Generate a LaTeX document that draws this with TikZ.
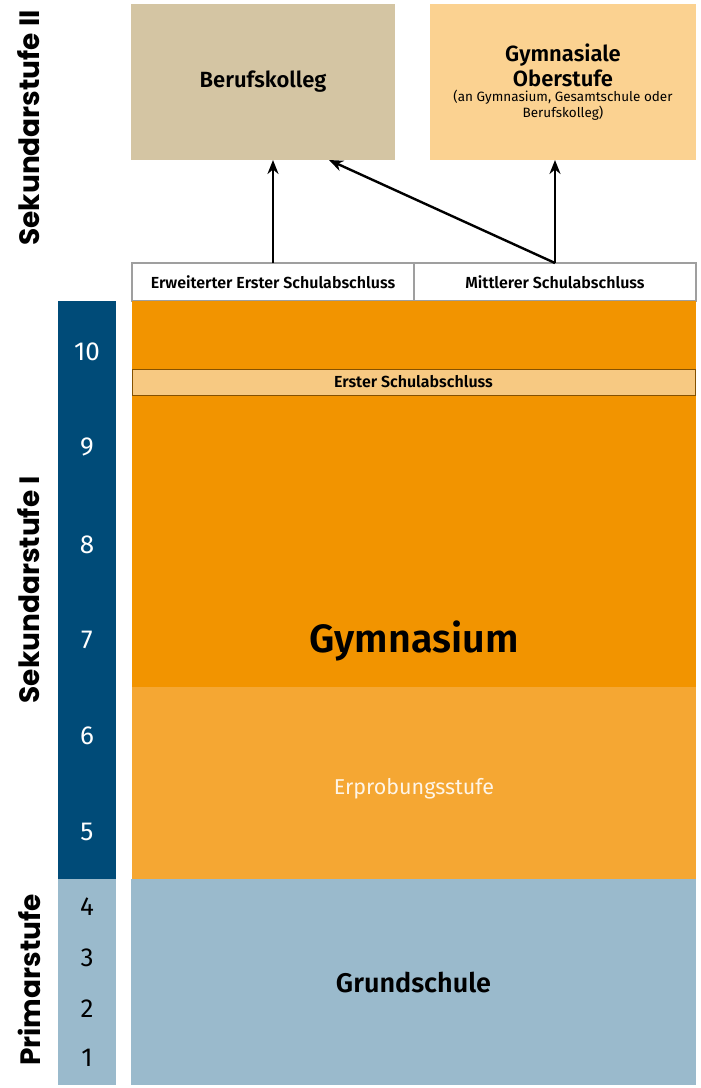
\documentclass[tikz,border=0pt]{standalone}
\usepackage{fontspec}
\setmainfont{Fira Sans}[BoldFont={* SemiBold}]
\newfontfamily\headfont{Poppins}
\usetikzlibrary{positioning}
\usetikzlibrary{calc}
\usetikzlibrary{arrows.meta}
\definecolor{bkbeige}{HTML}{D4C5A3}
\definecolor{obgelb}{HTML}{FBD291}
\definecolor{gymorange}{HTML}{F29400}
\definecolor{erpoorange}{HTML}{F5A733}
\definecolor{esabar}{HTML}{F7C982}
\definecolor{gsblau}{HTML}{9ABACC}
\definecolor{sekblau}{HTML}{004B78}
\tikzset{
    schulplan/.style={
            x=1pt,y=-1pt,
            box/.style={inner sep=0pt, outer sep=0pt, anchor=north west, align=center},
            abschluss/.style={box, draw=gray!75, fill=white, line width=1.2pt,
                    font=\bfseries\fontsize{16}{18}\selectfont},
            stufe/.style={rotate=90, font=\headfont\bfseries\fontsize{28}{32}\selectfont},
            klasse/.style={font=\fontsize{26}{30}\selectfont},
            arrow/.style={-{Stealth[length=14pt,width=11pt]}, line width=2.4pt}
        }
    }

\begin{document}
\begin{tikzpicture}[schulplan]
        \useasboundingbox (0,0) rectangle (701,1088);
        % Sekundarstufe II
        \node (bk) [box, fill=bkbeige, minimum width=264pt, minimum height=156pt,
            font=\bfseries\fontsize{22}{26}\selectfont] at (131,4) {Berufskolleg};
        \node (go) [box, fill=obgelb, minimum width=266pt, minimum height=156pt] at (430,4) {};
        \node (gotitle) [align=center, inner sep=0pt, font=\bfseries\fontsize{22}{25}\selectfont]
            at ($(go.center)+(0,-17)$) {Gymnasiale\\Oberstufe};
        \node (gosub) [align=center, inner sep=0pt, font=\fontsize{13.5}{16}\selectfont]
            at ($(go.center)+(0,23)$) {(an Gymnasium, Gesamtschule oder\\Berufskolleg)};
        % Abschluesse
        \node (eesa) [abschluss, minimum width=282pt, minimum height=38pt] at (132,263)
            {Erweiterter Erster Schulabschluss};
        \node (msa) [abschluss, minimum width=282pt, minimum height=38pt, right=0pt of eesa.north east, anchor=north west]
            {Mittlerer Schulabschluss};
        % Sekundarstufe I
        \node (gym) [box, fill=gymorange, minimum width=564pt, minimum height=386pt] at (132,301) {};
        \node (gymtext) [font=\bfseries\fontsize{39.5}{44}\selectfont] at ($(gym.south)+(0,-46)$) {Gymnasium};
        \node (esa) [box, fill=esabar, draw=gymorange!55!black, line width=0.8pt,
            minimum width=563pt, minimum height=26pt, font=\bfseries\fontsize{16}{18}\selectfont]
            at (132,369) {Erster Schulabschluss};
        \node (erpo) [box, fill=erpoorange, minimum width=564pt, minimum height=192pt] at (132,687) {};
        \node (erpotext) [text=white!88!erpoorange, font=\fontsize{21.5}{24}\selectfont]
            at ($(erpo.center)+(0,6)$) {Erprobungsstufe};
        % Primarstufe
        \node (gs) [box, fill=gsblau, minimum width=565pt, minimum height=206pt,
            font=\bfseries\fontsize{27}{30}\selectfont] at (131,879) {Grundschule};
        % Jahrgangsspalte
        \node (sek) [box, fill=sekblau, minimum width=58pt, minimum height=578pt] at (58,301) {};
        \node (prim) [box, fill=gsblau, minimum width=58pt, minimum height=206pt] at (58,879) {};
        \foreach \k/\y in {10/352,9/447,8/545,7/640,6/736,5/832}
            \node (k\k) [klasse, text=white] at (87,\y) {\k};
        \foreach \k/\y in {4/907,3/958,2/1009,1/1058}
            \node (k\k) [klasse] at (87,\y) {\k};
        \node (s2) [stufe] at (29,128) {Sekundarstufe II};
        \node (s1) [stufe] at (29,590) {Sekundarstufe I};
        \node (ps) [stufe] at (29,980) {Primarstufe};
        % Uebergaenge
        \draw [arrow] (eesa.north) -- (eesa.north |- bk.south);
        \draw [arrow] (msa.north) -- (msa.north |- go.south);
        \draw [arrow] (msa.north) -- ($(bk.south west)!0.75!(bk.south east)$);
    \end{tikzpicture}
\end{document}
